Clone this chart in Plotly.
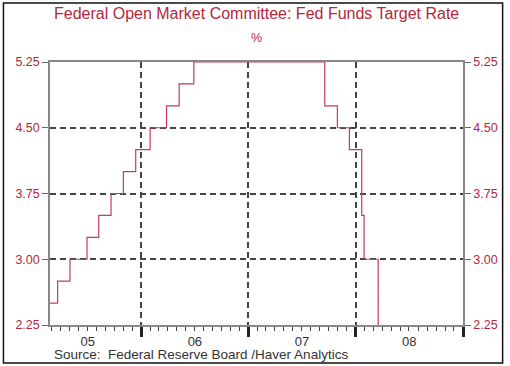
import plotly.graph_objects as go

# Fed funds target rate change dates and levels (step series)
change_dates = ["2005-02-02", "2005-03-22", "2005-05-03", "2005-06-30", "2005-08-09",
                "2005-09-20", "2005-11-01", "2005-12-13", "2006-01-31", "2006-03-28",
                "2006-05-10", "2006-06-29", "2007-09-18", "2007-10-31", "2007-12-11",
                "2008-01-22", "2008-01-30", "2008-03-18"]
rates = [2.50, 2.75, 3.00, 3.25, 3.50, 3.75, 4.00, 4.25, 4.50, 4.75,
         5.00, 5.25, 4.75, 4.50, 4.25, 3.50, 3.00, 2.25]
y_ticks = [2.25, 3.00, 3.75, 4.50, 5.25]
x_range = ["2005-02-24", "2009-01-01"]

RED = "#b3283c"
LINE = "#c53d58"
GRID = "#444444"
FONT = "Liberation Sans, Arial, sans-serif"

W, H = 510, 366
L, R, T, B = 50, 43, 62, 41
pw, ph = W - L - R, H - T - B

def px_x(x):
    return (x - L) / pw

def px_y(y):
    return (H - B - y) / ph

fig = go.Figure()
fig.add_trace(go.Scatter(x=change_dates, y=rates, mode="lines", line_shape="hv",
                         line=dict(color=LINE, width=1.2), showlegend=False,
                         hoverinfo="x+y"))
fig.add_trace(go.Scatter(x=change_dates, y=rates, mode="lines", yaxis="y2",
                         line=dict(color="rgba(0,0,0,0)", width=0), showlegend=False,
                         hoverinfo="skip"))

yax = dict(range=[y_ticks[0], y_ticks[-1]], tickvals=y_ticks, tickformat=".2f",
           tickfont=dict(color=RED, size=12.5, family=FONT),
           ticks="outside", ticklen=6, tickcolor="#666", tickwidth=1,
           showline=True, linecolor="#888", linewidth=1.5, zeroline=False)

fig.update_layout(
    width=W, height=H,
    margin=dict(l=L, r=R, t=T, b=B),
    paper_bgcolor="white", plot_bgcolor="white",
    font=dict(family=FONT),
    xaxis=dict(range=x_range, type="date", dtick="M12", tick0="2005-01-01",
               tickformat="%y", ticklabelmode="period", ticklabelstandoff=-6,
               tickfont=dict(color="#333", size=13, family=FONT),
               ticks="outside", ticklen=10, tickwidth=2.5, tickcolor="#222",
               minor=dict(dtick="M1", ticks="outside", ticklen=4, tickcolor="#444",
                          tickwidth=1, showgrid=False),
               showgrid=True, gridcolor=GRID, griddash="6px,4px", gridwidth=1.5,
               showline=True, linecolor="#888", linewidth=1.5, mirror=True,
               zeroline=False),
    yaxis=dict(side="left", showgrid=True, gridcolor=GRID, griddash="6px,4px",
               gridwidth=1.5, **yax),
    yaxis2=dict(side="right", overlaying="y", showgrid=False, **yax),
    annotations=[
        dict(text="Federal Open Market Committee: Fed Funds Target Rate", x=0.5, y=px_y(13),
             xref="paper", yref="paper", showarrow=False, yanchor="middle",
             font=dict(color=RED, size=16, family=FONT)),
        dict(text="%", x=0.5, y=px_y(38), xref="paper", yref="paper", showarrow=False,
             yanchor="middle", font=dict(color=RED, size=12.5, family=FONT)),
        dict(text="Source:  Federal Reserve Board /Haver Analytics", x=px_x(52), y=px_y(354),
             xref="paper", yref="paper", showarrow=False, xanchor="left", yanchor="middle",
             font=dict(color="#333", size=13.5, family=FONT)),
    ],
    shapes=[dict(type="rect", xref="paper", yref="paper",
                 x0=px_x(3), x1=px_x(507), y0=px_y(363), y1=px_y(3),
                 line=dict(color="#111", width=1.5), layer="above")],
)

fig.write_html("out.html", config={"displayModeBar": False},
               post_script="document.body.style.margin='0px';document.body.style.overflow='hidden';")
